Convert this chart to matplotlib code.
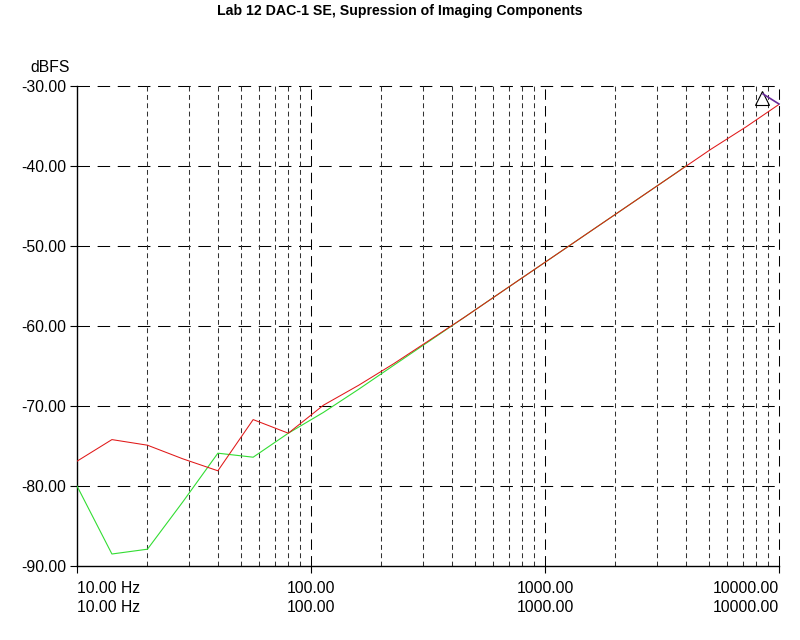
import numpy as np
import matplotlib
matplotlib.use('Agg')
import matplotlib.pyplot as plt

plt.rcParams['font.family'] = ['Liberation Sans', 'DejaVu Sans']
plt.rcParams['lines.scale_dashes'] = False

# frequency points (Hz), half-octave steps
freq = [10, 14.1, 20, 28.3, 40, 56.6, 80, 113, 160, 226, 320, 453, 640, 905,
        1280, 1810, 2560, 3620, 5120, 7240, 10000]
red_db = [-76.9, -74.2, -74.9, -76.6, -78.1, -71.7, -73.4, -69.9, -67.4, -64.7,
          -61.8, -58.9, -55.9, -52.9, -49.9, -46.9, -43.9, -40.9, -37.9, -35.1, -32.3]
# green trace stops near 4 kHz (hidden under the red one above that)
green_freq = [10, 14.1, 20, 28.3, 40, 56.6, 80, 113, 160, 226, 320, 453, 640, 905,
              1280, 1810, 2560, 3620, 4000]
green_db = [-80.0, -88.5, -87.9, -82.0, -75.9, -76.4, -73.4, -70.8, -67.9, -64.9,
            -61.9, -58.9, -55.9, -52.9, -49.9, -46.9, -43.9, -40.9, -40.0]

y_ticks = [-30, -40, -50, -60, -70, -80, -90]
x_major = [10, 100, 1000, 10000]
x_labels = ['10.00 Hz\n10.00 Hz', '100.00\n100.00', '1000.00\n1000.00', '10000.00\n10000.00']

# cursor marker at top right
cursor_f, cursor_db = 8500, -31.5
cursor_seg_f, cursor_seg_db = [8550, 10000], [-31.0, -32.25]

fig = plt.figure(figsize=(8, 6.4), dpi=100)
ax = fig.add_axes([77 / 800, 1 - 566 / 640, (779 - 77) / 800, (566 - 86) / 640])

ax.set_xscale('log')
ax.set_xlim(10, 10000)
ax.set_ylim(-90, -30)

# grid drawn by hand to get the dash styles
for y in y_ticks[:-1]:
    ax.axhline(y, color='black', lw=0.75, ls=(0, (9, 5.5)), clip_on=False, zorder=1)
minors = [m * d for d in [10, 100, 1000] for m in range(2, 10)]
for x in minors:
    ax.axvline(x, color='#333333', lw=0.75, ls=(0, (3.5, 2.5)), zorder=1)
for x in x_major[1:]:
    ax.axvline(x, color='black', lw=0.75, ls=(0, (7.5, 4.5)), clip_on=False, zorder=1)

ax.plot(green_freq, green_db, color='#33dd33', lw=0.8, zorder=3)
ax.plot(freq, red_db, color='#e01818', lw=0.75, zorder=4)

ax.plot([cursor_f], [cursor_db], marker='^', ms=10, mfc='none', mec='black',
        mew=0.8, ls='none', clip_on=False, zorder=5)
ax.plot(cursor_seg_f, cursor_seg_db, color='#6a2a9a', lw=1.2, clip_on=False, zorder=5)

for s in ['top', 'right']:
    ax.spines[s].set_visible(False)
ax.spines['left'].set_linewidth(1.0)
ax.spines['bottom'].set_linewidth(1.0)

ax.set_yticks(y_ticks)
ax.set_yticklabels(['%.2f' % v for v in y_ticks], fontsize=11.3)
ax.set_xticks(x_major)
ax.set_xticks([], minor=True)
ax.set_xticklabels(x_labels, fontsize=11.3, linespacing=1.3)
ax.tick_params(axis='both', direction='out', length=5, width=0.8, color='black')
ax.tick_params(axis='y', pad=3)
ax.tick_params(axis='x', pad=6)
lbls = ax.get_xticklabels()
lbls[0].set_horizontalalignment('left')
lbls[-1].set_horizontalalignment('right')

fig.text(50 / 800, 1 - 68 / 640, 'dBFS', fontsize=11.3, ha='center', va='center')
fig.text(0.5, 1 - 11 / 640, 'Lab 12 DAC-1 SE, Supression of Imaging Components',
         fontsize=10.2, fontweight='bold', ha='center', va='center')

fig.savefig('out.png', dpi=100)
